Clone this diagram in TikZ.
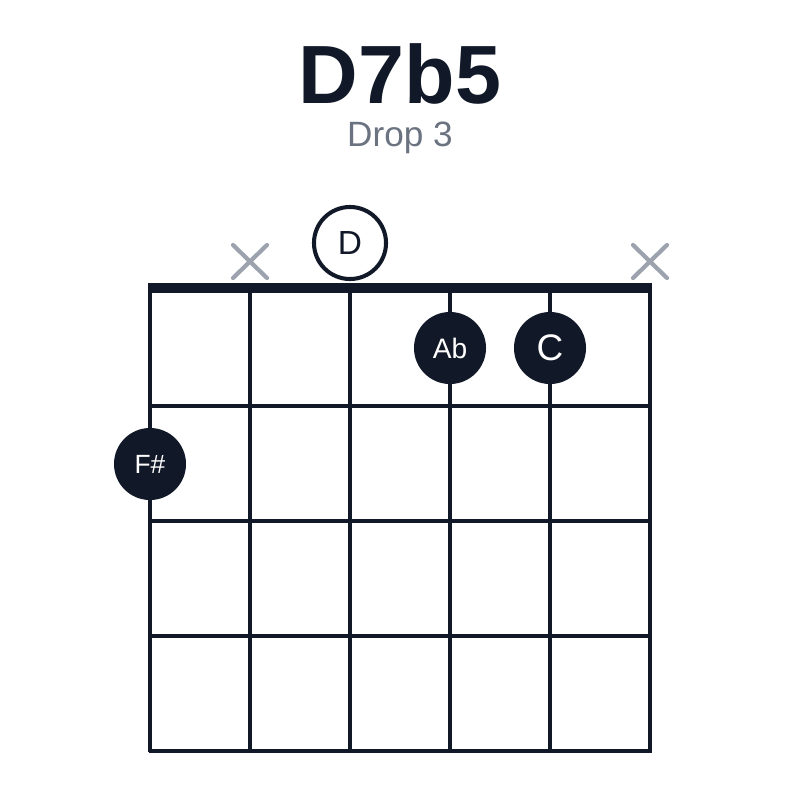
\documentclass[tikz,border=0pt]{standalone}
\usepackage{fontspec}
\setmainfont{Liberation Sans}
\definecolor{ink}{HTML}{111827}
\definecolor{mute}{HTML}{9CA3AF}
\definecolor{subgray}{HTML}{6B7280}
\begin{document}
\begin{tikzpicture}[x=0.01cm, y=-0.01cm,
        fingerdot/.style={circle, fill=ink, text=white, minimum size=0.72cm, inner sep=0pt},
        opendot/.style={circle, draw=ink, line width=1.15pt, fill=white, text=ink, minimum size=0.72cm, inner sep=0pt},
        mutemark/.style={mute, line width=1.2pt, line cap=round}]
        \useasboundingbox (0,0) rectangle (800,800);

        \node[anchor=base, text=ink, font=\bfseries\fontsize{23.5}{28}\selectfont] (title) at (400,103) {D7b5};
        \node[anchor=base, text=subgray, font=\fontsize{10}{12}\selectfont] (subtitle) at (400,146) {Drop 3};

        \foreach \x in {150,250,...,650} {
            \draw[ink, line width=1pt] (\x,287) -- (\x,752);
        }
        \foreach \y in {406,521,636,751} {
            \draw[ink, line width=1pt] (148.5,\y) -- (651.5,\y);
        }
        \fill[ink] (148,282.5) rectangle (652,292.5);

        \foreach \x in {250,650} {
            \draw[mutemark] (\x-17,245) -- (\x+17,278);
            \draw[mutemark] (\x-17,278) -- (\x+17,245);
        }

        \node[opendot, font=\fontsize{9.5}{11}\selectfont] (rootD) at (350,243) {D};
        \node[fingerdot, font=\fontsize{8}{10}\selectfont] (noteAb) at (450,348) {Ab};
        \node[fingerdot, font=\fontsize{10.5}{12}\selectfont] (noteC) at (550,348) {C};
        \node[fingerdot, font=\fontsize{7.5}{9}\selectfont] (noteFs) at (150,464) {F\#};
    \end{tikzpicture}
\end{document}
